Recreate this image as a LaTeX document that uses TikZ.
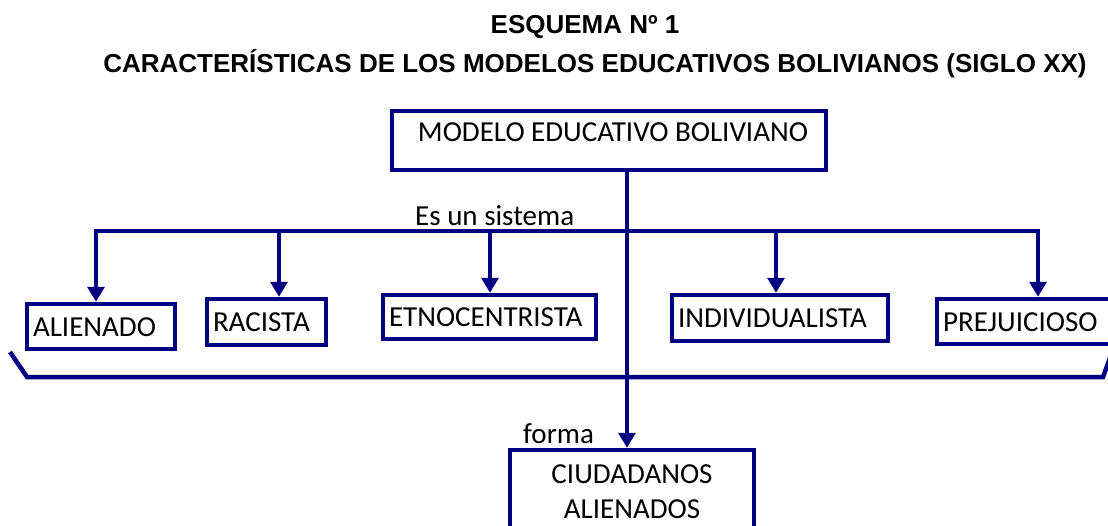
\documentclass[tikz,border=0pt]{standalone}
\usepackage{fontspec}
\setmainfont{Carlito}
\newfontfamily\arialfont{Liberation Sans}
\usepackage{tikz}
\usetikzlibrary{positioning,%
  arrows.meta,%
  calc%
}
\definecolor{azul}{RGB}{0,0,128}

\begin{document}
\begin{tikzpicture}[x=1pt,y=-1pt,
    caja/.style={draw=azul, line width=4.5pt, rectangle, inner ysep=0pt, inner xsep=6pt, font=\fontsize{29}{35}\selectfont, text height=19pt, text depth=0pt, align=left},
    flecha/.style={draw=azul, line width=3.5pt, -{Triangle[width=17pt,length=15pt]}},
    linea/.style={draw=azul, line width=3.5pt},
    etiqueta/.style={font=\fontsize{29}{35}\selectfont, inner sep=0pt, anchor=base west},
    titulo/.style={font=\arialfont\bfseries\fontsize{26}{30}\selectfont, inner sep=0pt, anchor=base}]
  \useasboundingbox (0,0) rectangle (1108,525);

  \node[titulo] (esquema) at (585,33) {ESQUEMA Nº 1};
  \node[titulo] (caract) at (595,72) {CARACTERÍSTICAS DE LOS MODELOS EDUCATIVOS BOLIVIANOS (SIGLO XX)};

  \node[caja, inner xsep=0pt, minimum width=434pt, minimum height=59pt, text depth=17pt] (modelo) at (609,140.5) {\hspace*{8pt}MODELO EDUCATIVO BOLIVIANO};

  \node[caja, text width=136pt, minimum height=45pt] (alienado) at (101,326.5) {ALIENADO};
  \node[caja, text width=107pt, minimum height=46pt] (racista) at (266.5,322) {RACISTA};
  \node[caja, text width=201pt, minimum height=44pt] (etno) at (489.5,317) {ETNOCENTRISTA};
  \node[caja, text width=204pt, minimum height=46pt] (indiv) at (780,318) {INDIVIDUALISTA};
  \node[caja, text width=163pt, minimum height=45pt] (prej) at (1024.5,321.5) {PREJUICIOSO};

  \node[caja, align=center, inner xsep=0pt, minimum width=244pt, minimum height=82pt, text height=54pt, text depth=0pt] (ciudadanos) at (632,491) {CIUDADANOS\\ALIENADOS};

  \node[etiqueta] (sistema) at (415,225) {Es un sistema};
  \node[etiqueta] (forma) at (523,443) {forma};

  \coordinate (izq) at (96,231);
  \coordinate (der) at (1038,231);
  \coordinate (eje) at (627,231);

  \draw[linea, line cap=rect] (izq) -- (der);
  \draw[flecha] (modelo.south -| eje) -- (ciudadanos.north -| eje);
  \foreach \x/\n in {96/alienado,279/racista,490/etno,776/indiv,1038/prej}
    \draw[flecha] (\x,231) -- (\x,0 |- \n.north);

  \draw[linea, line width=4.5pt] (10,352) -- (27,377) -- (1103,377) -- (1111,355);
\end{tikzpicture}
\end{document}
